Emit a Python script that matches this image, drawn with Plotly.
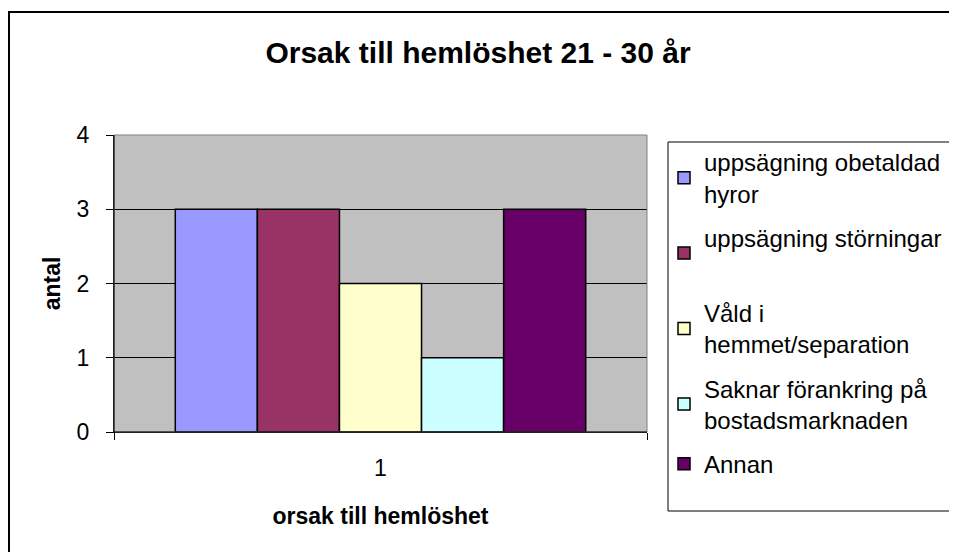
import plotly.graph_objects as go

categories = ["1"]
series_names = [
    "uppsägning obetaldad<br>hyror",
    "uppsägning störningar<br> ",
    "Våld i<br>hemmet/separation",
    "Saknar förankring på<br>bostadsmarknaden",
    "Annan",
]
series_values = [[3], [3], [2], [1], [3]]
series_colors = ["#9999FF", "#993366", "#FFFFCC", "#CCFFFF", "#660066"]

FONT = "Arial, Liberation Sans, sans-serif"
OFF = 8  # page offset of the plot div (body margin)

W, H = 957, 552
L, T = 106, 127
PW, PH = 533, 297
R, B = W - L - PW, H - T - PH


def px(x):
    return (x - OFF - L) / PW


def py(y):
    return (T + PH - (y - OFF)) / PH


fig = go.Figure()
for i, (name, vals, col) in enumerate(zip(series_names, series_values, series_colors)):
    fig.add_trace(go.Bar(
        x=categories, y=vals, name=name,
        marker=dict(color=col, line=dict(color="black", width=1.5)),
        legendgroup=f"g{i}",
    ))

fig.update_layout(
    width=W, height=H,
    margin=dict(l=L, r=R, t=T, b=B, pad=0),
    paper_bgcolor="white",
    plot_bgcolor="#C0C0C0",
    barmode="group", bargap=0.23, bargroupgap=0,
    font=dict(family=FONT, size=23, color="black"),
    title=dict(text="<b>Orsak till hemlöshet 21 - 30 år</b>", x=(478 - OFF) / W, xanchor="center",
               y=1 - (52 - OFF) / H, yanchor="middle", font=dict(size=30, family=FONT)),
    showlegend=True,
    legend=dict(
        x=px(664), xanchor="left", y=py(140), yanchor="top",
        borderwidth=0, bgcolor="rgba(0,0,0,0)",
        font=dict(size=24, family=FONT), tracegroupgap=10,
        itemwidth=30, maxheight=520,
    ),
    xaxis=dict(
        showline=True, linecolor="black", linewidth=1,
        ticks="outside", ticklen=7, tickcolor="black", tickson="boundaries",
        showgrid=False, ticklabelstandoff=15,
        title=dict(text="<b>orsak till hemlöshet</b>", font=dict(size=23), standoff=28),
        tickfont=dict(size=23),
    ),
    yaxis=dict(
        range=[0, 4], dtick=1, showline=True, linecolor="black", linewidth=1,
        ticks="outside", ticklen=7, tickcolor="black", ticklabelstandoff=12,
        showgrid=True, gridcolor="black", gridwidth=1, zeroline=False,
        title=dict(text="<b>antal</b>", font=dict(size=23), standoff=9),
        tickfont=dict(size=23),
    ),
    shapes=[
        dict(type="rect", xref="paper", yref="paper", x0=0, x1=1, y0=0, y1=1,
             line=dict(color="#808080", width=1), layer="above"),
        dict(type="line", xref="paper", yref="paper", x0=0, x1=0, y0=0, y1=1,
             line=dict(color="black", width=1), layer="above"),
        dict(type="line", xref="paper", yref="paper", x0=0, x1=1, y0=0, y1=0,
             line=dict(color="black", width=1), layer="above"),
        # outer chart frame
        dict(type="rect", xref="paper", yref="paper",
             x0=px(OFF + 1), x1=px(W + 40), y0=py(H + 40), y1=py(12),
             line=dict(color="black", width=2), layer="below"),
        # legend frame
        dict(type="rect", xref="paper", yref="paper",
             x0=px(668), x1=px(W + 40), y0=py(511), y1=py(142),
             line=dict(color="black", width=1), fillcolor="white", layer="below"),
    ],
)

fig.write_html("out.html")
